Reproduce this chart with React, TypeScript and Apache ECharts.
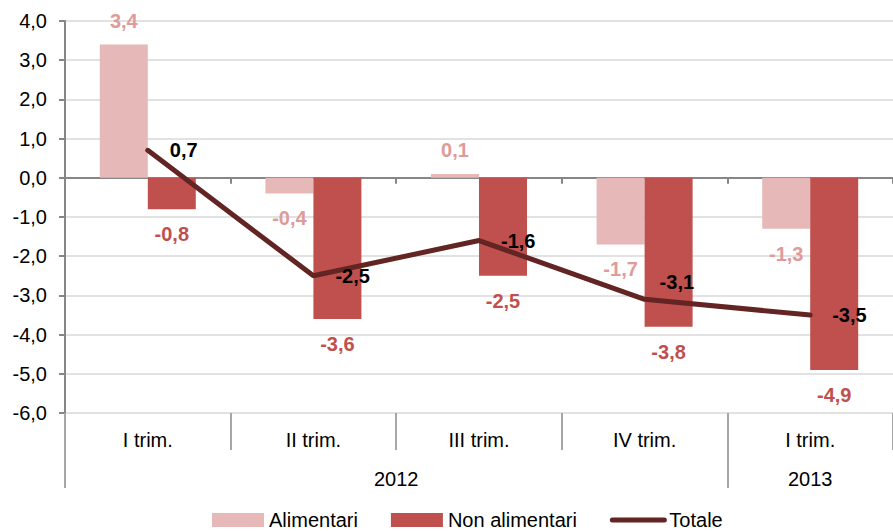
import React, { useEffect, useRef } from 'react';
import * as echarts from 'echarts';

const quarters = ['I trim.', 'II trim.', 'III trim.', 'IV trim.', 'I trim.'];
const years = ['2012', '2013'];
const quartersPerYear = [4, 1];
const alimentari = [3.4, -0.4, 0.1, -1.7, -1.3];
const nonAlimentari = [-0.8, -3.6, -2.5, -3.8, -4.9];
const totale = [0.7, -2.5, -1.6, -3.1, -3.5];
const yMin = -6;
const yMax = 4;
const yStep = 1;

const FONT = "'Liberation Sans', Arial, sans-serif";
const fmt = (v: number) => v.toFixed(1).replace('.', ',');

export default function App() {
  const ref = useRef<HTMLDivElement>(null);

  useEffect(() => {
    if (!ref.current) return;
    const chart = echarts.init(ref.current, undefined, { renderer: 'svg' });

    const bounds: number[] = [0];
    quartersPerYear.forEach((n) => bounds.push(bounds[bounds.length - 1] + n));
    const centres = years.map((_, i) => (bounds[i] + bounds[i + 1]) / 2);

    const barLabel = (color: string) => ({
      show: true,
      color,
      fontFamily: FONT,
      fontSize: 20,
      fontWeight: 'bold' as const,
      formatter: (p: any) => fmt(p.value),
    });
    const barItem = (v: number) => ({
      value: v,
      label: v >= 0 ? { position: 'top', distance: 14 } : { position: 'bottom', distance: 15 },
    });

    chart.setOption({
      animation: false,
      textStyle: { fontFamily: FONT },
      grid: { left: 65, top: 21, width: 841, bottom: 118, containLabel: false },
      legend: {
        left: 212,
        top: 510,
        padding: 0,
        itemWidth: 52,
        itemHeight: 14,
        itemGap: 33,
        textStyle: { fontFamily: FONT, fontSize: 20, color: '#000' },
        data: [
          { name: 'Alimentari', icon: 'rect' },
          { name: 'Non alimentari', icon: 'rect' },
          { name: 'Totale', itemStyle: { opacity: 0 }, lineStyle: { width: 5, color: '#632523', cap: 'round' } },
        ],
      },
      xAxis: [
        {
          type: 'category',
          data: quarters,
          position: 'bottom',
          axisLine: { onZero: true, lineStyle: { color: '#868686', width: 2 } },
          axisTick: { show: true, interval: 0, length: 6, lineStyle: { color: '#868686', width: 2 } },
          axisLabel: { show: false },
          splitLine: { show: false },
        },
        {
          type: 'category',
          data: quarters,
          position: 'bottom',
          axisLine: { show: false, onZero: false },
          axisTick: { show: true, interval: 0, length: 37, lineStyle: { color: '#a6a6a6', width: 2 } },
          axisLabel: { show: true, interval: 0, margin: 17, fontSize: 20, color: '#000', fontFamily: FONT },
          splitLine: { show: false },
        },
        {
          type: 'value',
          min: bounds[0],
          max: bounds[bounds.length - 1],
          position: 'bottom',
          axisLine: { show: false, onZero: false },
          axisTick: {
            show: true,
            customValues: bounds.slice(0, -1),
            length: 75,
            lineStyle: { color: '#a6a6a6', width: 2 },
          },
          axisLabel: {
            show: true,
            customValues: centres,
            margin: 56,
            fontSize: 20,
            color: '#000',
            fontFamily: FONT,
            formatter: (v: number) => {
              const i = centres.findIndex((c) => Math.abs(c - v) < 1e-6);
              return i >= 0 ? years[i] : '';
            },
          },
          splitLine: { show: false },
        },
      ],
      yAxis: {
        type: 'value',
        min: yMin,
        max: yMax,
        interval: yStep,
        axisLine: { show: true, lineStyle: { color: '#868686', width: 2 } },
        axisTick: { show: true, length: 6, lineStyle: { color: '#868686', width: 2 } },
        axisLabel: { margin: 18, fontSize: 20, color: '#000', fontFamily: FONT, formatter: (v: number) => fmt(v) },
        splitLine: { show: true, lineStyle: { color: '#d9d9d9', width: 1.5 } },
      },
      series: [
        {
          name: 'Alimentari',
          type: 'bar',
          barWidth: 48,
          barGap: '0%',
          itemStyle: { color: '#E6B9B8' },
          label: barLabel('#DE9B9A'),
          data: alimentari.map(barItem),
        },
        {
          name: 'Non alimentari',
          type: 'bar',
          barWidth: 48,
          barGap: '0%',
          itemStyle: { color: '#C0504D' },
          label: barLabel('#C0504D'),
          data: nonAlimentari.map(barItem),
        },
        {
          name: 'Totale',
          type: 'line',
          symbol: 'circle',
          symbolSize: 2,
          showSymbol: true,
          z: 5,
          lineStyle: { color: '#632523', width: 5, cap: 'round' },
          itemStyle: { color: '#632523' },
          label: {
            show: true,
            position: 'right',
            distance: 21,
            color: '#000',
            fontFamily: FONT,
            fontSize: 20,
            fontWeight: 'bold',
            formatter: (p: any) => fmt(p.value),
          },
          labelLayout: { hideOverlap: false },
          data: totale.map((v, i) =>
            i === 3
              ? { value: v, label: { position: [16, -16], align: 'left', verticalAlign: 'middle' } }
              : { value: v }
          ),
        },
      ],
    });

    return () => chart.dispose();
  }, []);

  return (
    <div
      ref={ref}
      style={{ position: 'fixed', left: 0, top: 0, width: 893, height: 531, background: '#fff' }}
    />
  );
}
